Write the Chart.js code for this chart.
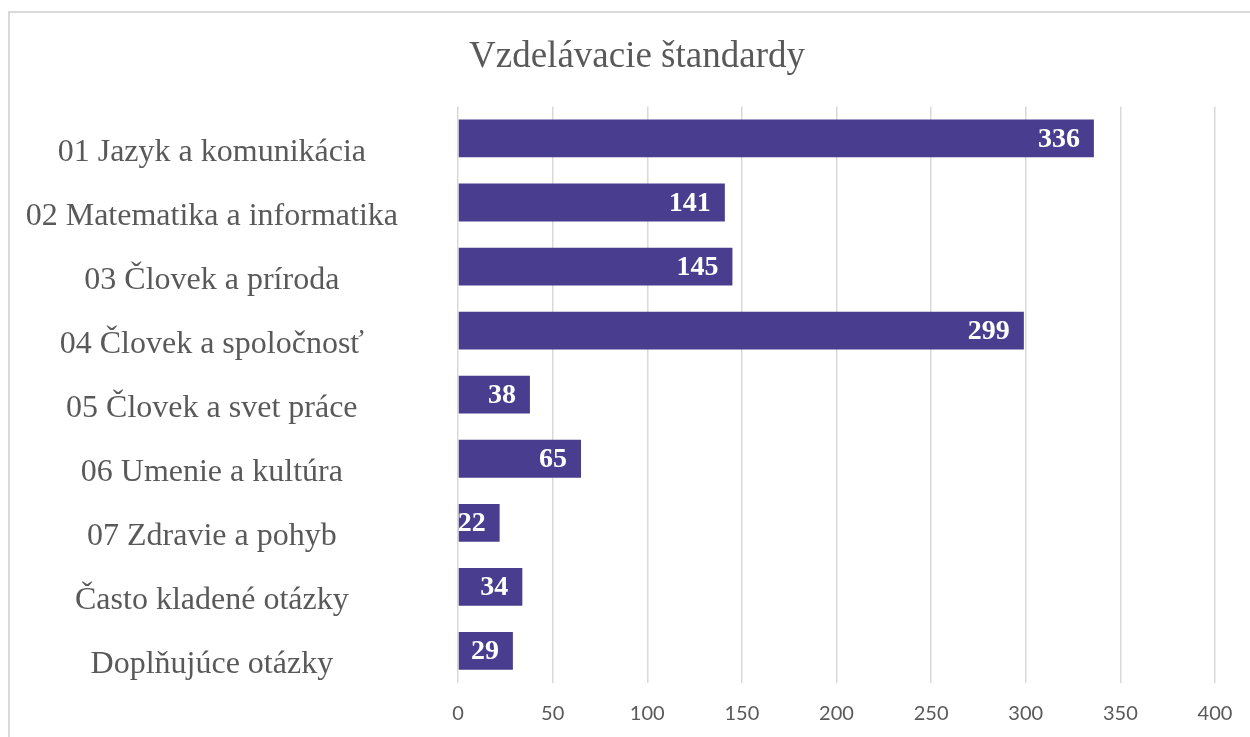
<!DOCTYPE html>
<html lang="sk">
<head>
<meta charset="utf-8">
<title>Vzdelávacie štandardy</title>
<script src="https://cdn.jsdelivr.net/npm/chart.js@4.4.1/dist/chart.umd.min.js"></script>
<style>
  html, body { margin: 0; padding: 0; background: #fff; overflow: hidden; }
  #frame {
    position: absolute; left: 8px; top: 11px; width: 1300px; height: 800px;
    border-left: 2px solid #d9d9d9; border-top: 2px solid #d9d9d9;
  }
  #wrap { position: absolute; left: 10px; top: 12px; width: 1254px; height: 726px; }
</style>
</head>
<body>
<div id="frame"></div>
<div id="wrap"><canvas id="chart"></canvas></div>
<script>
const chartTitle = 'Vzdelávacie štandardy';
const categories = [
  '01 Jazyk a komunikácia',
  '02 Matematika a informatika',
  '03 Človek a príroda',
  '04 Človek a spoločnosť',
  '05 Človek a svet práce',
  '06 Umenie a kultúra',
  '07 Zdravie a pohyb',
  'Často kladené otázky',
  'Doplňujúce otázky'
];
const counts = [336, 141, 145, 299, 38, 65, 22, 34, 29];
const xTicks = [0, 50, 100, 150, 200, 250, 300, 350, 400];

// popisky hodnot na konci stĺpcov (vnútri, zarovnané vpravo)
const barLabels = {
  id: 'barLabels',
  afterDatasetsDraw(chart) {
    const ctx = chart.ctx;
    const area = chart.chartArea;
    const meta = chart.getDatasetMeta(0);
    ctx.save();
    ctx.beginPath();
    ctx.rect(area.left, area.top, area.right - area.left, area.bottom - area.top);
    ctx.clip();
    ctx.font = 'bold 28px "Liberation Serif", "Times New Roman", serif';
    ctx.fillStyle = '#ffffff';
    ctx.textAlign = 'right';
    ctx.textBaseline = 'middle';
    meta.data.forEach((bar, i) => {
      ctx.fillText(String(counts[i]), bar.x - 14, bar.y + 1);
    });
    ctx.restore();
  }
};

const ctx = document.getElementById('chart').getContext('2d');
new Chart(ctx, {
  type: 'bar',
  data: {
    labels: categories,
    datasets: [{
      data: counts,
      backgroundColor: '#493D8F',
      borderWidth: 0,
      barPercentage: 0.59,
      categoryPercentage: 1
    }]
  },
  options: {
    indexAxis: 'y',
    responsive: true,
    maintainAspectRatio: false,
    animation: false,
    layout: { padding: 0 },
    plugins: {
      legend: { display: false },
      tooltip: { enabled: false },
      title: {
        display: true,
        text: chartTitle,
        color: '#595959',
        font: { family: '"Liberation Serif", "Times New Roman", serif', size: 37, weight: 'normal' },
        padding: { top: 23, bottom: 27 }
      }
    },
    scales: {
      x: {
        min: 0,
        max: 400,
        afterBuildTicks(scale) {
          scale.ticks = xTicks.map(v => ({ value: v }));
        },
        afterFit(scale) {
          scale.height = 55;
          scale.paddingLeft = 0;
          scale.paddingRight = 0;
        },
        grid: { color: '#d9d9d9', lineWidth: 1.5, drawTicks: false },
        border: { display: false },
        ticks: {
          color: '#595959',
          padding: 19,
          font: { family: 'Lato, "Open Sans", sans-serif', size: 20 }
        }
      },
      y: {
        afterFit(scale) {
          scale.width = 448;
          scale.paddingTop = 0;
          scale.paddingBottom = 0;
        },
        grid: { display: false, drawTicks: false },
        border: { display: false },
        ticks: {
          color: '#595959',
          padding: 60,
          crossAlign: 'center',
          labelOffset: 14,
          autoSkip: false,
          font: { family: '"Liberation Serif", "Times New Roman", serif', size: 32 }
        }
      },
      // prázdna os vpravo – rezerva, aby bol nadpis centrovaný ako v origináli
      spacer: {
        type: 'linear',
        position: 'right',
        min: 0,
        max: 1,
        afterFit(scale) {
          scale.width = 49;
          scale.paddingTop = 0;
          scale.paddingBottom = 0;
        },
        grid: { display: false, drawTicks: false },
        border: { display: false },
        ticks: { display: false }
      }
    }
  },
  plugins: [barLabels]
});
</script>
</body>
</html>
